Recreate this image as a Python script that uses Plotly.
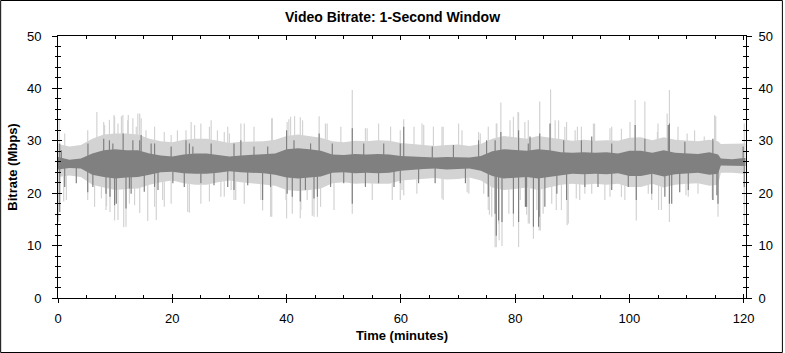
import plotly.graph_objects as go

# ---- data ----
env_t = [0, 2, 4, 6, 8, 10, 12, 14, 16, 18, 20, 22, 24, 26, 28, 30, 32, 34, 36, 38,
         40, 42, 44, 46, 48, 50, 52, 54, 56, 58, 60, 62, 64, 66, 68, 70, 72, 74, 76, 78,
         80, 82, 84, 86, 88, 90, 92, 94, 96, 98, 100, 102, 104, 106, 108, 110, 112, 114,
         115.5, 116, 118, 120, 120.3]
light_hi = [29.4, 28.9, 29.2, 30.4, 31.2, 31.4, 31.4, 31.2, 30.4, 29.9, 29.7, 30.2, 30.4, 30.4,
            30.0, 29.6, 29.8, 29.9, 29.9, 30.2, 30.9, 31.2, 30.9, 30.6, 29.9, 29.7, 30.0, 29.9,
            30.1, 30.0, 29.6, 29.4, 29.2, 29.0, 29.2, 29.3, 29.0, 29.4, 30.4, 30.9, 30.7, 30.4,
            30.9, 30.6, 30.2, 30.0, 30.2, 30.0, 30.1, 30.0, 30.6, 30.7, 30.1, 30.7, 30.2, 30.0,
            29.9, 30.2, 29.9, 29.4, 29.4, 29.5, 29.5]
light_lo = [23.1, 23.4, 23.1, 21.6, 21.1, 20.6, 20.8, 20.9, 21.6, 22.1, 22.4, 21.9, 21.6, 21.6,
            22.1, 22.4, 22.1, 21.9, 21.6, 21.4, 20.6, 20.4, 20.6, 20.9, 21.9, 22.1, 21.8, 21.9,
            21.8, 21.8, 22.4, 22.6, 22.8, 22.9, 22.6, 22.7, 23.0, 22.4, 21.1, 20.6, 20.8, 21.1,
            20.6, 21.1, 21.6, 21.8, 21.6, 21.8, 21.6, 21.8, 21.2, 21.2, 21.8, 21.1, 21.6, 21.8,
            21.9, 21.4, 21.6, 23.9, 23.9, 23.7, 23.7]
dark_hi = [26.9, 26.4, 26.6, 27.6, 28.2, 28.4, 28.2, 28.2, 27.6, 27.2, 27.0, 27.4, 27.6, 27.6,
           27.3, 27.0, 27.2, 27.3, 27.4, 27.6, 28.4, 28.6, 28.4, 28.1, 27.4, 27.3, 27.5, 27.4,
           27.5, 27.4, 27.1, 27.0, 26.9, 26.8, 26.9, 26.9, 26.8, 27.1, 28.0, 28.4, 28.3, 28.1,
           28.4, 28.2, 27.8, 27.7, 27.8, 27.7, 27.8, 27.6, 28.1, 28.1, 27.7, 28.2, 27.7, 27.6,
           27.5, 27.8, 27.4, 26.6, 26.5, 26.7, 26.7]
dark_lo = [24.5, 24.8, 24.7, 23.5, 23.1, 22.8, 23.0, 23.1, 23.5, 24.0, 24.1, 23.8, 23.7, 23.7,
           23.9, 24.2, 24.0, 23.9, 23.8, 23.5, 23.0, 22.8, 23.0, 23.2, 23.9, 24.0, 23.8, 23.9,
           23.8, 23.9, 24.3, 24.5, 24.6, 24.7, 24.5, 24.6, 24.7, 24.3, 23.3, 22.8, 22.9, 23.1,
           22.8, 23.1, 23.5, 23.7, 23.6, 23.7, 23.6, 23.8, 23.3, 23.3, 23.7, 23.2, 23.6, 23.8,
           23.9, 23.5, 23.7, 25.3, 25.3, 25.2, 25.2]

base_rate = 25.8

light_spike_t = [0.2, 5.2, 6.8, 8.0, 9.0, 9.8, 10.5, 11.1, 12.3, 13.1, 13.7, 14.3, 15.4, 16.9,
                 19.8, 22.4, 23.3, 23.9, 25.0, 26.5, 27.9, 29.1, 30.0, 32.6, 37.4, 40.4, 41.4,
                 42.4, 45.7, 46.8, 51.5, 53.8, 60.5, 62.3, 63.7, 65.7, 67.4, 70.7, 73.9, 76.7,
                 77.5, 79.1, 80.6, 82.3, 84.3, 86.2, 87.6, 89.0, 90.9, 91.6, 93.7, 96.6, 100.1,
                 101.0, 102.7, 104.9, 106.6, 107.0, 110.1, 113.1, 115.1, 120.1,
                 1.17, 8.15, 9.9, 11.35, 12.2, 13.97, 14.55, 18.6, 20.9, 26.8, 29.7, 32.0, 34.3,
                 37.5, 40.1, 40.7, 42.8, 47.1, 49.5, 54.1, 56.1, 58.2, 59.9, 64.0, 67.2, 70.1,
                 73.6, 75.3, 76.8, 79.7, 80.5, 81.7, 87.0, 88.7, 90.5, 93.9, 96.9, 98.6, 105.0,
                 108.5, 111.4, 114.9]
light_spike_v = [34.3, 32.0, 35.5, 33.6, 34.0, 34.9, 33.3, 34.7, 34.9, 34.3, 32.7, 35.2, 32.0, 32.7,
                 31.1, 32.0, 33.6, 33.0, 33.3, 32.7, 32.0, 31.7, 31.4, 33.3, 34.3, 34.1, 34.7,
                 34.5, 34.7, 33.3, 39.7, 32.4, 34.1, 32.7, 33.3, 32.7, 32.7, 32.0, 31.4, 33.3,
                 37.3, 33.9, 35.4, 33.9, 37.5, 39.8, 33.9, 33.6, 32.7, 32.7, 33.3, 32.4, 33.6,
                 37.8, 37.5, 31.7, 35.2, 39.7, 31.4, 30.8, 34.7, 33.3,
                 31.4, 33.0, 34.6, 34.9, 33.9, 35.2, 34.3, 31.7, 32.0, 33.9, 32.7, 33.3, 32.7,
                 34.3, 33.6, 34.6, 33.9, 33.3, 32.7, 32.4, 33.3, 32.7, 32.0, 33.0, 32.7, 33.3,
                 31.7, 32.7, 33.3, 34.6, 35.5, 33.6, 33.9, 32.7, 32.0, 33.3, 32.7, 32.3, 33.3,
                 32.7, 32.0, 34.9]

light_dip_t = [0.1, 1.0, 5.2, 6.4, 7.6, 8.5, 9.1, 9.9, 10.5, 11.5, 11.9, 12.5, 13.4, 14.3,
               15.7, 17.2, 18.6, 19.8, 22.7, 23.0, 25.0, 26.5, 28.5, 30.3, 30.8, 35.8, 37.2,
               37.4, 40.0, 41.0, 42.4, 44.5, 44.8, 45.4, 51.5, 60.5, 62.8, 67.2, 67.4, 71.6,
               74.5, 75.5, 76.7, 77.2, 77.7, 79.7, 80.6, 81.8, 82.0, 82.5, 83.2, 84.2, 84.9,
               86.4, 87.2, 89.1, 90.7, 92.2, 96.6, 98.6, 101.2, 103.3, 105.1, 107.0, 109.9,
               114.5, 115.5, 120.1,
               1.46, 8.4, 16.9, 18.3, 29.1, 31.1, 32.6, 35.5, 39.9, 42.5, 43.6, 45.95, 48.3,
               55.0, 58.5, 59.9, 60.2, 71.9, 75.3, 75.9, 76.5, 77.1, 78.9, 80.9, 82.3, 83.8,
               84.4, 88.1, 89.3, 91.3, 93.4, 95.7, 99.2, 103.9, 105.6, 110.3, 112.0, 114.6]
light_dip_v = [14.5, 18.4, 18.7, 17.4, 19.0, 17.5, 16.4, 14.8, 14.9, 13.5, 13.6, 18.0, 17.7, 16.2,
               14.7, 14.9, 17.4, 18.0, 16.4, 16.3, 18.0, 18.4, 19.3, 20.6, 18.7, 16.7, 15.5,
               15.5, 15.2, 16.1, 15.2, 15.7, 15.5, 15.5, 16.1, 19.6, 19.9, 19.0, 18.7, 20.2,
               19.9, 15.9, 9.7, 11.0, 9.9, 13.6, 9.7, 17.4, 15.9, 14.2, 11.3, 12.9, 16.1,
               18.0, 16.8, 13.9, 19.0, 19.9, 19.3, 19.3, 14.8, 19.9, 16.8, 14.5, 19.6,
               19.0, 15.5, 14.2,
               18.7, 16.8, 17.4, 18.7, 19.3, 18.7, 18.0, 18.7, 18.7, 16.8, 18.7, 17.4, 16.8,
               18.7, 18.7, 18.7, 20.6, 19.9, 16.8, 15.5, 9.7, 14.2, 16.1, 18.7, 14.2, 16.8,
               12.9, 16.8, 14.2, 18.7, 19.9, 18.7, 18.7, 18.7, 16.8, 19.3, 19.9, 18.7]

dark_spike_t = [0.3, 8.0, 9.0, 11.4, 14.3, 16.9, 23.0, 40.0, 45.7, 51.5, 60.5, 75.0, 77.5, 80.6,
                82.6, 84.3, 86.1, 88.5, 91.6, 101.0, 102.7, 107.0, 114.6,
                0.59, 5.24, 9.6, 13.1, 14.55, 16.3, 19.8, 22.4, 23.6, 26.8, 30.8, 32.0, 34.3,
                36.7, 41.3, 44.2, 48.0, 53.5, 57.0, 59.9, 65.5, 69.2, 73.6, 76.5, 82.3, 93.4,
                96.9, 106.8, 109.7, 119.9]
dark_spike_v = [29.5, 30.4, 30.1, 31.4, 30.1, 29.5, 29.5, 32.0, 31.4, 32.4, 32.7, 30.1, 31.7, 32.0,
                30.8, 31.4, 33.3, 30.1, 30.1, 33.0, 30.4, 33.3, 30.4,
                28.2, 29.5, 29.5, 30.1, 31.1, 29.5, 28.9, 30.1, 28.9, 29.5, 29.5, 30.1, 28.9,
                28.9, 30.1, 29.5, 29.5, 29.5, 29.5, 29.5, 28.9, 29.2, 30.1, 30.1, 29.5, 30.8,
                29.5, 33.0, 29.8, 28.9]

dark_dip_t = [0.3, 5.2, 9.1, 10.2, 11.9, 12.8, 17.5, 22.1, 35.8, 42.4, 44.8, 51.5, 75.3, 76.7,
              77.1, 77.7, 79.7, 80.6, 81.8, 83.2, 84.2, 87.3, 89.0, 101.2, 107.0, 108.8,
              115.3, 115.5,
              1.17, 3.2, 6.1, 8.4, 9.9, 12.5, 15.1, 16.9, 20.1, 25.0, 27.3, 29.7, 30.8, 33.2,
              37.2, 40.1, 41.0, 43.3, 45.4, 47.7, 50.0, 53.8, 56.1, 58.8, 59.9, 63.1, 66.0,
              71.3, 76.5, 82.0, 84.1, 85.2, 92.2, 94.5, 96.9, 99.8, 103.9, 106.2, 107.4,
              110.3, 114.6, 120.1]
dark_dip_v = [16.4, 20.2, 19.3, 18.0, 17.1, 19.9, 20.6, 21.2, 18.7, 18.4, 19.0, 18.0, 19.3, 11.9,
              14.8, 14.5, 16.1, 14.5, 17.4, 13.6, 15.5, 19.9, 18.7, 18.7, 18.0, 20.2,
              19.6, 18.0,
              21.2, 21.9, 21.2, 19.9, 17.7, 20.9, 20.3, 21.2, 21.9, 21.9, 21.5, 21.2, 20.6, 21.5,
              21.2, 19.9, 19.3, 20.6, 19.3, 21.2, 21.9, 21.2, 21.9, 21.2, 21.9, 21.9, 21.9,
              21.9, 16.1, 17.4, 13.6, 17.4, 21.2, 21.2, 20.6, 21.2, 19.9, 19.3, 18.0,
              20.6, 18.7, 21.2]

x_ticks = [0, 20, 40, 60, 80, 100, 120]
y_ticks = [0, 10, 20, 30, 40, 50]

LIGHT = "#d3d3d3"
DARK = "#808080"


def spike_xy(ts, vs, base):
    xs, ys = [], []
    for t, v in zip(ts, vs):
        xs += [t, t, None]
        ys += [base, v, None]
    return xs, ys


fig = go.Figure()
# light band
fig.add_trace(go.Scatter(x=env_t, y=light_lo, mode="lines", line=dict(width=0, color=LIGHT),
                         hoverinfo="skip", showlegend=False))
fig.add_trace(go.Scatter(x=env_t, y=light_hi, mode="lines", line=dict(width=0, color=LIGHT),
                         fill="tonexty", fillcolor=LIGHT, hoverinfo="skip", showlegend=False))
lx, ly = spike_xy(light_spike_t + light_dip_t, light_spike_v + light_dip_v, base_rate)
fig.add_trace(go.Scatter(x=lx, y=ly, mode="lines", line=dict(width=1.2, color=LIGHT),
                         hoverinfo="skip", showlegend=False))
# dark band
fig.add_trace(go.Scatter(x=env_t, y=dark_lo, mode="lines", line=dict(width=0, color=DARK),
                         hoverinfo="skip", showlegend=False))
fig.add_trace(go.Scatter(x=env_t, y=dark_hi, mode="lines", line=dict(width=0, color=DARK),
                         fill="tonexty", fillcolor=DARK, hoverinfo="skip", showlegend=False))
dx, dy = spike_xy(dark_spike_t + dark_dip_t, dark_spike_v + dark_dip_v, base_rate)
fig.add_trace(go.Scatter(x=dx, y=dy, mode="lines", line=dict(width=1.2, color=DARK),
                         hoverinfo="skip", showlegend=False))

# dummy traces to register overlay axes
fig.add_trace(go.Scatter(x=[None], y=[None], xaxis="x2", yaxis="y2", showlegend=False, hoverinfo="skip"))
fig.add_trace(go.Scatter(x=[None], y=[None], xaxis="x3", yaxis="y3", showlegend=False, hoverinfo="skip"))
fig.add_trace(go.Scatter(x=[None], y=[None], xaxis="x", yaxis="y4", showlegend=False, hoverinfo="skip"))

FONT = "Liberation Sans, Arial, sans-serif"
XR = [0, 120.4]
YR = [0, 50]
tickfont = dict(family=FONT, size=13, color="black")

common_x = dict(range=XR, showgrid=False, zeroline=False, showline=True, linecolor="black",
                linewidth=1, tickcolor="black", tickwidth=1, fixedrange=True)
common_y = dict(range=YR, showgrid=False, zeroline=False, showline=True, linecolor="black",
                linewidth=1, tickcolor="black", tickwidth=1, fixedrange=True)

fig.update_layout(
    width=785, height=353,
    margin=dict(l=58, r=37, t=36, b=55),
    paper_bgcolor="white", plot_bgcolor="white",
    title=dict(text="<b>Video Bitrate: 1-Second Window</b>", x=0.5, xref="container",
               y=1 - 17 / 353, yref="container", yanchor="middle", xanchor="center",
               font=dict(family=FONT, size=14, color="black")),
    xaxis=dict(**common_x, side="bottom", tickvals=x_ticks, ticks="inside", ticklen=4,
               minor=dict(dtick=5, tick0=0, ticks="inside", ticklen=3, tickcolor="black"),
               tickfont=tickfont, ticklabelstandoff=8,
               title=dict(text="<b>Time (minutes)</b>", font=dict(family=FONT, size=13, color="black"),
                          standoff=6)),
    xaxis2=dict(**common_x, overlaying="x", side="top", anchor="y", tickvals=x_ticks,
                ticks="inside", ticklen=4, showticklabels=False,
                minor=dict(dtick=5, tick0=0, ticks="inside", ticklen=3, tickcolor="black")),
    xaxis3=dict(**common_x, overlaying="x", side="bottom", anchor="y", tickvals=x_ticks,
                ticks="outside", ticklen=4, showticklabels=False),
    yaxis=dict(**common_y, side="left", tickvals=y_ticks, ticks="outside", ticklen=5,
               minor=dict(dtick=2, tick0=0, ticks="outside", ticklen=2, tickcolor="black"),
               tickfont=tickfont, ticklabelstandoff=8,
               title=dict(text="<b>Bitrate (Mbps)</b>", font=dict(family=FONT, size=13, color="black"),
                          standoff=6)),
    yaxis2=dict(**common_y, overlaying="y", side="right", anchor="x", tickvals=y_ticks,
                ticks="outside", ticklen=5, tickfont=tickfont, ticklabelstandoff=4,
                minor=dict(dtick=2, tick0=0, ticks="outside", ticklen=2, tickcolor="black")),
    yaxis3=dict(**common_y, overlaying="y", side="left", anchor="x3", tickvals=y_ticks,
                ticks="inside", ticklen=4, showticklabels=False,
                minor=dict(dtick=2, tick0=0, ticks="inside", ticklen=3, tickcolor="black")),
    yaxis4=dict(**common_y, overlaying="y", side="right", anchor="x", tickvals=y_ticks,
                ticks="inside", ticklen=4, showticklabels=False,
                minor=dict(dtick=2, tick0=0, ticks="inside", ticklen=3, tickcolor="black")),
    showlegend=False,
)

# outer border of the image
pw, ph = 690.0, 262.0
fig.add_shape(type="rect", xref="paper", yref="paper",
              x0=(0.5 - 58) / pw, x1=(784.5 - 58) / pw,
              y0=(298 - 352.5) / ph, y1=(298 - 0.5) / ph,
              line=dict(color="black", width=1), fillcolor="rgba(0,0,0,0)", layer="above")

fig.write_html("out.html", config={"displayModeBar": False})
